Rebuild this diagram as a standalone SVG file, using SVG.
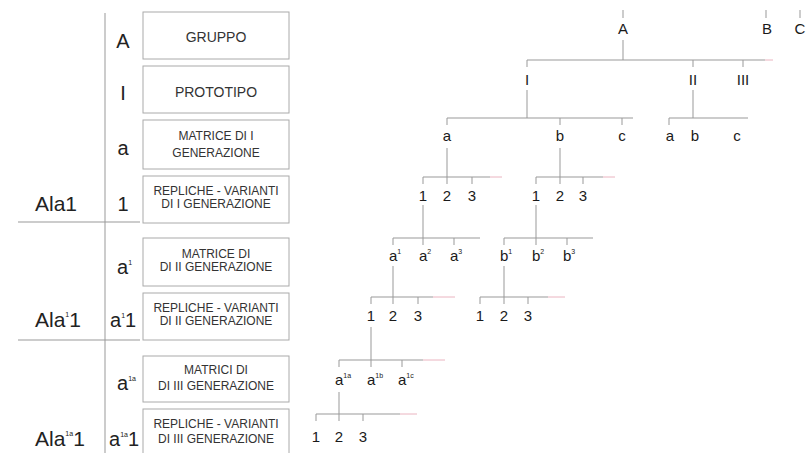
<svg xmlns="http://www.w3.org/2000/svg" width="812" height="453" viewBox="0 0 812 453">
<style>
.bx{fill:#fff;stroke:#aaa;stroke-width:1}
.t{font-family:"Liberation Sans",Arial,sans-serif;fill:#222}
.col{font-size:20px;text-anchor:middle}
.ala{font-size:21px}
.bt{font-size:12px;text-anchor:middle;fill:#333}
.bt2{font-size:14px;text-anchor:middle;fill:#333}
.tr{font-size:15px;text-anchor:middle;fill:#1a1a1a}
.tl{font-size:15px;fill:#1a1a1a}
.sup{font-size:7px}
.ln{stroke:#999;stroke-width:1;fill:none}
.pk{stroke:#eab4c0;stroke-width:1;fill:none}
</style>
<rect width="812" height="453" fill="#fff"/>
<g id="legend">
<line class="ln" x1="105" y1="13" x2="105" y2="453"/>
<line class="ln" x1="18" y1="222" x2="140" y2="222"/>
<line class="ln" x1="18" y1="340" x2="140" y2="340"/>
<g id="box-gruppo"><rect class="bx" x="143" y="12" width="146" height="47"/><text class="t bt2" x="216" y="42">GRUPPO</text><text class="t col" x="123" y="48">A</text></g>
<g id="box-prototipo"><rect class="bx" x="143" y="66" width="146" height="47"/><text class="t bt2" x="216" y="97">PROTOTIPO</text><text class="t col" x="123" y="100">I</text></g>
<g id="box-matrice1"><rect class="bx" x="143" y="120" width="146" height="49"/><text class="t bt" x="216" y="140">MATRICE DI I</text><text class="t bt" x="216" y="157">GENERAZIONE</text><text class="t col" x="123" y="155">a</text></g>
<g id="box-repliche1"><rect class="bx" x="143" y="176" width="146" height="47"/><text class="t bt" x="216" y="195">REPLICHE - VARIANTI</text><text class="t bt" x="216" y="208">DI I GENERAZIONE</text><text class="t col" x="123" y="211">1</text><text class="t ala" x="35" y="211">Ala1</text></g>
<g id="box-matrice2"><rect class="bx" x="143" y="238" width="146" height="48"/><text class="t bt" x="216" y="258">MATRICE DI</text><text class="t bt" x="216" y="271">DI II GENERAZIONE</text><text class="t" font-size="20" x="117" y="274">a<tspan class="sup" dy="-9">1</tspan></text></g>
<g id="box-repliche2"><rect class="bx" x="143" y="293" width="146" height="47"/><text class="t bt" x="216" y="312">REPLICHE - VARIANTI</text><text class="t bt" x="216" y="325">DI II GENERAZIONE</text><text class="t" font-size="20" x="110" y="327">a<tspan class="sup" dy="-9">1</tspan><tspan dy="9">1</tspan></text><text class="t ala" x="35" y="327">Ala<tspan class="sup" dy="-10">1</tspan><tspan dy="10">1</tspan></text></g>
<g id="box-matrici3"><rect class="bx" x="143" y="356" width="146" height="46"/><text class="t bt" x="216" y="374">MATRICI DI</text><text class="t bt" x="216" y="390">DI III GENERAZIONE</text><text class="t" font-size="20" x="117" y="390">a<tspan class="sup" dy="-9">1a</tspan></text></g>
<g id="box-repliche3"><rect class="bx" x="143" y="409" width="146" height="46"/><text class="t bt" x="216" y="428">REPLICHE - VARIANTI</text><text class="t bt" x="216" y="443">DI III GENERAZIONE</text><text class="t" font-size="20" x="109" y="446">a<tspan class="sup" dy="-9">1a</tspan><tspan dy="9">1</tspan></text><text class="t ala" x="35" y="446">Ala<tspan class="sup" dy="-10">1a</tspan><tspan dy="10">1</tspan></text></g>
</g>
<g id="connectors">
<path class="ln" d="M623 10V18M623 40V60M766 10V18M800 10V18"/>
<path class="ln" d="M527 60H765M527 60V67M693 60V67M743 60V67"/>
<path class="pk" d="M765 60H773"/>
<path class="ln" d="M527 90V118M447 118H633M447 118V125M560 118V125M622 118V125"/>
<path class="ln" d="M693 90V118M669 118H748M669 118V125"/>
<path class="ln" d="M447 148V184M423 177H490M423 177V184M472 177V184"/>
<path class="pk" d="M490 177H502"/>
<path class="ln" d="M560 148V184M536 177H603M536 177V184M583 177V184"/>
<path class="pk" d="M603 177H615"/>
<path class="ln" d="M423 205V245M393 238H480M393 238V245M454 238V245"/>
<path class="ln" d="M536 205V245M504 238H593M504 238V245M567 238V245"/>
<path class="ln" d="M393 266V304M371 297H433M371 297V304M418 297V304"/>
<path class="pk" d="M433 297H455"/>
<path class="ln" d="M504 266V304M480 297H548M480 297V304M528 297V304"/>
<path class="pk" d="M548 297H565"/>
<path class="ln" d="M371 327V367M339 360H423M339 360V367M402 360V367"/>
<path class="pk" d="M423 360H445"/>
<path class="ln" d="M339 392V421M316 414H400M316 414V421M363 414V421"/>
<path class="pk" d="M400 414H417"/>
</g>
<g id="n-A"><text class="t tr" font-size="16" x="623" y="34">A</text></g>
<g id="n-B"><text class="t tr" font-size="16" x="767" y="34">B</text></g>
<g id="n-C"><text class="t tr" font-size="16" x="800" y="34">C</text></g>
<g id="n-I"><text class="t tr" x="527" y="85">I</text></g>
<g id="n-II"><text class="t tr" x="693" y="85">II</text></g>
<g id="n-III"><text class="t tr" x="743" y="85">III</text></g>
<g id="n-I-a"><text class="t tr" x="447" y="141">a</text></g>
<g id="n-I-b"><text class="t tr" x="560" y="141">b</text></g>
<g id="n-I-c"><text class="t tr" x="622" y="141">c</text></g>
<g id="n-II-a"><text class="t tr" x="670" y="141">a</text></g>
<g id="n-II-b"><text class="t tr" x="695" y="141">b</text></g>
<g id="n-II-c"><text class="t tr" x="737" y="141">c</text></g>
<g id="n-a-1"><text class="t tr" x="423" y="201">1</text></g>
<g id="n-a-2"><text class="t tr" x="447" y="201">2</text></g>
<g id="n-a-3"><text class="t tr" x="472" y="201">3</text></g>
<g id="n-b-1"><text class="t tr" x="536" y="201">1</text></g>
<g id="n-b-2"><text class="t tr" x="560" y="201">2</text></g>
<g id="n-b-3"><text class="t tr" x="583" y="201">3</text></g>
<g id="n-a1"><text class="t tl" x="389" y="261">a<tspan class="sup" dy="-7">1</tspan></text></g>
<g id="n-a2"><text class="t tl" x="419" y="261">a<tspan class="sup" dy="-7">2</tspan></text></g>
<g id="n-a3"><text class="t tl" x="450" y="261">a<tspan class="sup" dy="-7">3</tspan></text></g>
<g id="n-b1"><text class="t tl" x="500" y="261">b<tspan class="sup" dy="-7">1</tspan></text></g>
<g id="n-b2"><text class="t tl" x="532" y="261">b<tspan class="sup" dy="-7">2</tspan></text></g>
<g id="n-b3"><text class="t tl" x="563" y="261">b<tspan class="sup" dy="-7">3</tspan></text></g>
<g id="n-a1-1"><text class="t tr" x="371" y="321">1</text></g>
<g id="n-a1-2"><text class="t tr" x="393" y="321">2</text></g>
<g id="n-a1-3"><text class="t tr" x="418" y="321">3</text></g>
<g id="n-b1-1"><text class="t tr" x="480" y="321">1</text></g>
<g id="n-b1-2"><text class="t tr" x="504" y="321">2</text></g>
<g id="n-b1-3"><text class="t tr" x="528" y="321">3</text></g>
<g id="n-a1a"><text class="t tl" x="335" y="385">a<tspan class="sup" dy="-7">1a</tspan></text></g>
<g id="n-a1b"><text class="t tl" x="367" y="385">a<tspan class="sup" dy="-7">1b</tspan></text></g>
<g id="n-a1c"><text class="t tl" x="398" y="385">a<tspan class="sup" dy="-7">1c</tspan></text></g>
<g id="n-a1a-1"><text class="t tr" x="316" y="442">1</text></g>
<g id="n-a1a-2"><text class="t tr" x="339" y="442">2</text></g>
<g id="n-a1a-3"><text class="t tr" x="363" y="442">3</text></g>
</svg>
